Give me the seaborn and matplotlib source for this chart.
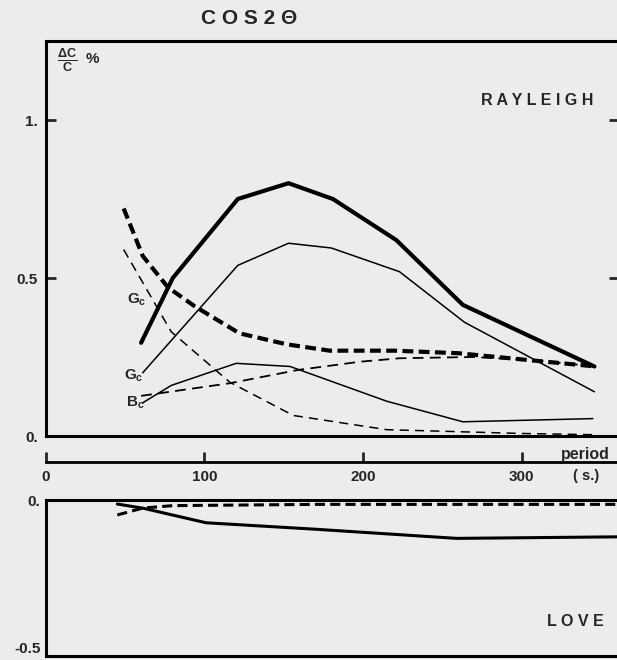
import numpy as np
import pandas as pd
import matplotlib
matplotlib.use("Agg")
import matplotlib.pyplot as plt
import seaborn as sns

# cos 2θ anisotropy of phase velocity (dC/C, %) versus period (s)
# Rayleigh waves
per_gc_thick = [60, 80, 121, 153, 181, 221, 263, 346]
gc_thick = [0.295, 0.50, 0.75, 0.80, 0.75, 0.62, 0.415, 0.22]

per_gc_thin = [61, 121, 153, 180, 223, 264, 346]
gc_thin = [0.20, 0.54, 0.61, 0.595, 0.52, 0.36, 0.14]

per_gc_dash_thick = [49, 61, 77, 94, 122, 152, 179, 220, 260, 305, 347]
gc_dash_thick = [0.72, 0.57, 0.47, 0.41, 0.325, 0.29, 0.27, 0.27, 0.262, 0.24, 0.22]

per_gc_dash_thin = [49, 79, 116, 156, 215, 300, 347]
gc_dash_thin = [0.59, 0.33, 0.17, 0.065, 0.02, 0.008, 0.004]

per_bc = [61, 79, 120, 154, 215, 263, 345]
bc = [0.105, 0.16, 0.23, 0.22, 0.11, 0.045, 0.055]

per_bc_dash = [60, 116, 159, 198, 223, 269, 307, 347]
bc_dash = [0.127, 0.167, 0.209, 0.235, 0.246, 0.25, 0.24, 0.22]

# Love waves
per_love = [45, 61, 101, 171, 259, 362]
love = [-0.013, -0.026, -0.073, -0.094, -0.123, -0.118]

per_love_dash = [45, 61, 80, 171, 362]
love_dash = [-0.048, -0.026, -0.018, -0.014, -0.014]

period_ticks = [0, 100, 200, 300]

bg = "#ececec"
W, H = 617, 660
px_per_s = 1.585
x_max = 573 / px_per_s

sns.set_style("white")
plt.rcParams.update({
    "font.family": ["Liberation Sans", "DejaVu Sans"],
    "font.weight": "bold",
    "mathtext.fontset": "custom",
    "mathtext.rm": "Liberation Sans:bold",
    "mathtext.it": "Liberation Sans:bold",
    "mathtext.bf": "Liberation Sans:bold",
    "axes.facecolor": bg,
    "figure.facecolor": bg,
})


def fx(x):
    return x / W


def fy(y):
    return 1 - y / H


fig = plt.figure(figsize=(W / 100, H / 100), dpi=100)

ax_top = fig.add_axes([fx(46), fy(436), 573 / W, 395 / H])
ax_mid = fig.add_axes([fx(46), fy(462), 573 / W, 10 / H])
ax_bot = fig.add_axes([fx(46), fy(656), 573 / W, 156 / H])

# Rayleigh curves
sns.lineplot(x=per_gc_thick, y=gc_thick, ax=ax_top, color="black", lw=3.0,
             solid_capstyle="round")
sns.lineplot(x=per_gc_thin, y=gc_thin, ax=ax_top, color="black", lw=1.1)
sns.lineplot(x=per_gc_dash_thick, y=gc_dash_thick, ax=ax_top, color="black", lw=3.0,
             linestyle=(0, (2.6, 1.3)))
sns.lineplot(x=per_gc_dash_thin, y=gc_dash_thin, ax=ax_top, color="black", lw=1.1,
             linestyle=(0, (6, 4)))
sns.lineplot(x=per_bc, y=bc, ax=ax_top, color="black", lw=1.1)
sns.lineplot(x=per_bc_dash, y=bc_dash, ax=ax_top, color="black", lw=1.3,
             linestyle=(0, (6, 3.5)))

ax_top.set_xlim(0, x_max)
ax_top.set_ylim(0, 1.25)
ax_top.set_xticks([])
ax_top.set_yticks([0, 0.5, 1])
ax_top.set_yticklabels(["0.", "0.5", "1."])
ax_top.tick_params(axis="y", direction="in", length=7, width=2, pad=6,
                   labelsize=11, left=True, right=True)
for s in ["left", "top", "bottom", "right"]:
    ax_top.spines[s].set_linewidth(2.2)
    ax_top.spines[s].set_color("black")

ax_top.text(0.955, 0.85, "R A Y L E I G H", transform=ax_top.transAxes,
            ha="right", va="center", fontsize=11.5, fontweight="heavy")

# curve labels
fig.text(fx(127), fy(300), "$G_c$", fontsize=11, va="center")
fig.text(fx(124), fy(376), "$G_c$", fontsize=11, va="center")
fig.text(fx(126), fy(403), "$B_c$", fontsize=11, va="center")

# period axis
ax_mid.set_xlim(0, x_max)
ax_mid.set_ylim(0, 1)
ax_mid.set_facecolor("none")
for s in ["left", "top", "right"]:
    ax_mid.spines[s].set_visible(False)
ax_mid.spines["bottom"].set_linewidth(2.0)
ax_mid.spines["bottom"].set_color("black")
ax_mid.set_yticks([])
ax_mid.set_xticks(period_ticks)
ax_mid.set_xticklabels([str(t) for t in period_ticks])
ax_mid.tick_params(axis="x", direction="in", length=7, width=2, pad=6,
                   labelsize=11, bottom=True)
fig.text(fx(585), fy(455), "period", ha="center", va="center", fontsize=11.5)
fig.text(fx(586), fy(476), "( s.)", ha="center", va="center", fontsize=10.5)

# Love curves
sns.lineplot(x=per_love, y=love, ax=ax_bot, color="black", lw=2.2)
sns.lineplot(x=per_love_dash, y=love_dash, ax=ax_bot, color="black", lw=2.2,
             linestyle=(0, (3.3, 1.7)))
ax_bot.set_xlim(0, x_max)
ax_bot.set_ylim(-0.5, 0)
ax_bot.set_xticks([])
ax_bot.set_yticks([-0.5, 0])
ax_bot.set_yticklabels(["-0.5", "0."])
ax_bot.tick_params(axis="y", direction="in", length=0, pad=4, labelsize=11)
ax_bot.get_yticklabels()[0].set_va("bottom")
for s in ["left", "top", "bottom", "right"]:
    ax_bot.spines[s].set_linewidth(2.2)
    ax_bot.spines[s].set_color("black")
ax_bot.text(0.974, 0.22, "L O V E", transform=ax_bot.transAxes,
            ha="right", va="center", fontsize=11.5, fontweight="heavy")

# title and unit
fig.text(fx(249), fy(19), "C O S 2 Θ", ha="center", va="center", fontsize=15,
         fontweight="heavy")
fig.text(fx(67), fy(60), r"$\frac{\Delta C}{C}$", ha="center", va="center", fontsize=13)
fig.text(fx(92), fy(59), "%", ha="center", va="center", fontsize=11)

fig.savefig("out.png", dpi=100, facecolor=bg)
